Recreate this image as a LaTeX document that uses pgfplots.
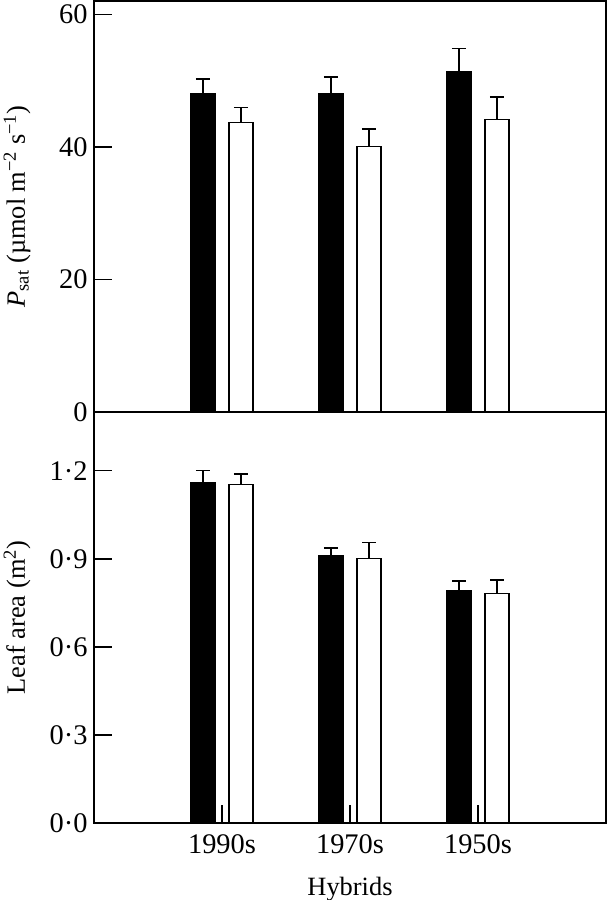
\documentclass[border=0pt]{standalone}
\usepackage{fontspec}
\setmainfont{Liberation Serif}
\usepackage{pgfplots}
\pgfplotsset{compat=1.18}
\newcommand{\ff}{\fontsize{26.5}{31}\selectfont}
\newcommand{\tf}{\fontsize{28.5}{33}\selectfont}
\begin{document}
\begin{tikzpicture}
\pgfplotsset{
  panel/.style={
    scale only axis, width=512bp, height=411bp,
    xmin=-1, xmax=3, ymin=0,
    ybar, bar width=24bp,
    axis line style={line width=1.5bp},
    ytick pos=left, xtick pos=bottom, tick align=inside,
    xtick align=inside, ytick align=inside,
    major tick length=18bp,
    every tick/.style={black, line width=1.5bp},
    tick label style={font=\tf},
    yticklabel style={xshift=-3bp},
    every axis y label/.style={at={(axis description cs:-0.1504,0.5)}, rotate=90, anchor=center, font=\ff},
    every axis x label/.style={at={(axis description cs:0.5,0)}, anchor=north, yshift=-51bp, font=\ff},
  },
  blackbar/.style={fill=black, draw=black, line width=1.2bp, bar shift=-19bp,
    error bars/.cd, y dir=plus, y explicit,
    error bar style={line width=1.5bp, black},
    error mark options={black, line width=1.5bp, mark size=7bp, rotate=90}},
  whitebar/.style={fill=white, draw=black, line width=1.2bp, bar shift=19bp,
    error bars/.cd, y dir=plus, y explicit,
    error bar style={line width=1.5bp, black},
    error mark options={black, line width=1.5bp, mark size=7bp, rotate=90}},
}
% top panel
\begin{axis}[panel, at={(0,411bp)}, anchor=south west,
  ymax=62, ytick={0,20,40,60}, yticklabels={0,20,40,60},
  xtick=\empty,
  ylabel={\textit{P}\textsubscript{sat} (µmol m\textsuperscript{−2} s\textsuperscript{−1})}]
\addplot[blackbar] coordinates {(0,48.0) +- (0,2.2) (1,48.0) +- (0,2.5) (2,51.4) +- (0,3.4)};
\addplot[whitebar] coordinates {(0,43.7) +- (0,2.2) (1,40.1) +- (0,2.6) (2,44.1) +- (0,3.4)};
\end{axis}
% bottom panel
\begin{axis}[panel, at={(0,0)}, anchor=south west,
  ymax=1.4, ytick={0,0.3,0.6,0.9,1.2}, yticklabels={0·0,0·3,0·6,0·9,1·2},
  xtick={0,1,2}, xticklabels={1990s,1970s,1950s},
  xticklabel style={yshift=-8bp},
  xlabel={Hybrids},
  ylabel={Leaf area (m\textsuperscript{2})}]
\addplot[blackbar] coordinates {(0,1.160) +- (0,0.041) (1,0.912) +- (0,0.024) (2,0.792) +- (0,0.032)};
\addplot[whitebar] coordinates {(0,1.152) +- (0,0.036) (1,0.900) +- (0,0.055) (2,0.782) +- (0,0.045)};
\end{axis}
\pgfresetboundingbox
\useasboundingbox (-94bp,-77bp) rectangle (514bp,823bp);
\end{tikzpicture}
\end{document}
